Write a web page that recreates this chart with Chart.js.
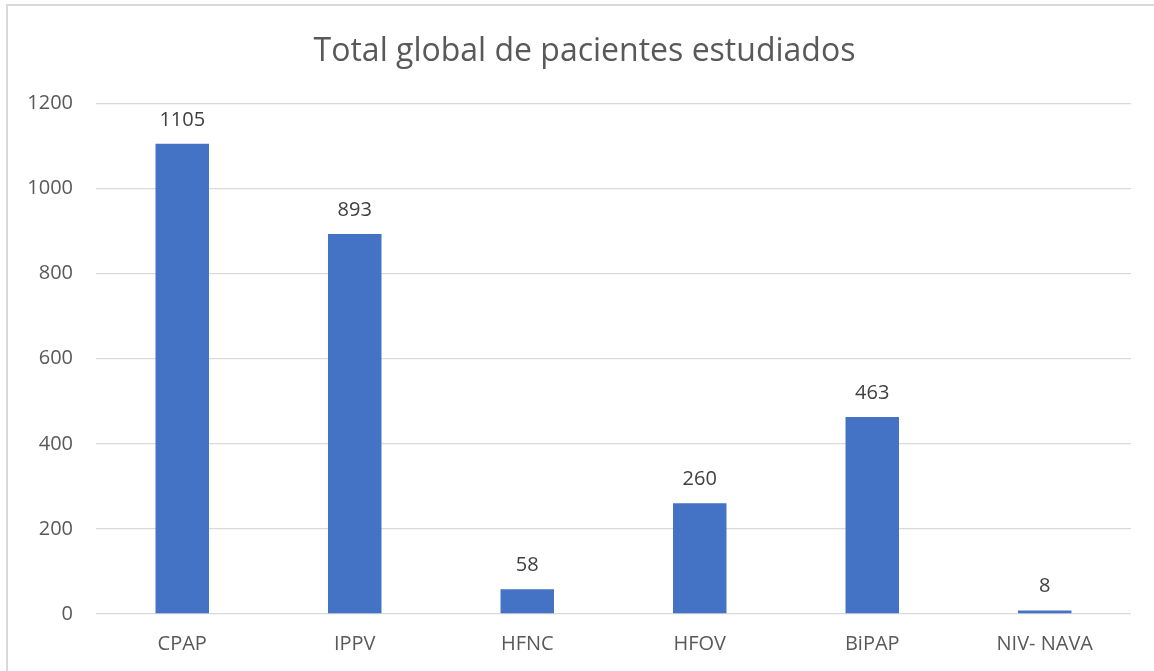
<!DOCTYPE html>
<html>
<head>
<meta charset="utf-8">
<script src="https://cdn.jsdelivr.net/npm/chart.js@4.4.0/dist/chart.umd.min.js"></script>
<style>
  html, body { margin: 0; padding: 0; background: #ffffff; }
  #wrap { position: absolute; left: 0; top: 0; width: 1154px; height: 671px; }
</style>
</head>
<body>
<div id="wrap"><canvas id="c" width="1154" height="671"></canvas></div>
<script>
const chartTitle = "Total global de pacientes estudiados";
const categories = ["CPAP", "IPPV", "HFNC", "HFOV", "BiPAP", "NIV- NAVA"];
const patients = [1105, 893, 58, 260, 463, 8];
const yTicks = [0, 200, 400, 600, 800, 1000, 1200];

const FONT = "'Open Sans', 'Liberation Sans', sans-serif";
const TEXT = "#595959";
const GRID = "#d9d9d9";

const frame = {
  id: "frame",
  beforeDraw(chart) {
    const ctx = chart.ctx;
    ctx.save();
    ctx.fillStyle = "#ffffff";
    ctx.fillRect(0, 0, chart.width, chart.height);
    ctx.strokeStyle = GRID;
    ctx.lineWidth = 2;
    ctx.beginPath();
    ctx.moveTo(7, chart.height + 2);
    ctx.lineTo(7, 5);
    ctx.lineTo(chart.width + 2, 5);
    ctx.stroke();
    ctx.restore();
  }
};

// centre the title on the whole framed card rather than on the padded area
const titleCentre = {
  id: "titleCentre",
  afterLayout(chart) {
    const tb = chart.titleBlock;
    if (tb) {
      const shift = 19;
      tb.left += shift;
      tb.right += shift;
    }
  }
};

const valueLabels = {
  id: "valueLabels",
  afterDatasetsDraw(chart) {
    const ctx = chart.ctx;
    const meta = chart.getDatasetMeta(0);
    ctx.save();
    ctx.font = "20px " + FONT;
    ctx.fillStyle = "#404040";
    ctx.textAlign = "center";
    ctx.textBaseline = "middle";
    meta.data.forEach((bar, i) => {
      ctx.fillText(String(chart.data.datasets[0].data[i]), bar.x, bar.y - 24);
    });
    ctx.restore();
  }
};

new Chart(document.getElementById("c"), {
  type: "bar",
  data: {
    labels: categories,
    datasets: [{
      data: patients,
      backgroundColor: "#4472C4",
      borderWidth: 0,
      categoryPercentage: 1,
      barPercentage: 0.31
    }]
  },
  options: {
    responsive: false,
    animation: false,
    layout: { padding: { left: 0, right: 23, top: 0, bottom: 0 } },
    plugins: {
      legend: { display: false },
      tooltip: { enabled: false },
      title: {
        display: true,
        text: chartTitle,
        color: TEXT,
        font: { family: FONT, size: 32, weight: "normal", lineHeight: 1.2 },
        padding: { top: 33, bottom: 32 }
      }
    },
    scales: {
      x: {
        grid: { display: false, drawTicks: false },
        border: { display: false },
        ticks: { color: TEXT, font: { family: FONT, size: 20 }, padding: 18 },
        afterFit(scale) { scale.height = 57; }
      },
      y: {
        min: 0,
        max: 1200,
        afterBuildTicks(scale) { scale.ticks = yTicks.map(v => ({ value: v })); },
        grid: { color: GRID, lineWidth: 1.3, drawTicks: false },
        border: { display: false },
        ticks: {
          color: TEXT,
          font: { family: FONT, size: 20 },
          padding: 23,
          callback: (v) => String(v)
        },
        afterFit(scale) { scale.width = 96; }
      }
    }
  },
  plugins: [frame, titleCentre, valueLabels]
});
</script>
</body>
</html>
